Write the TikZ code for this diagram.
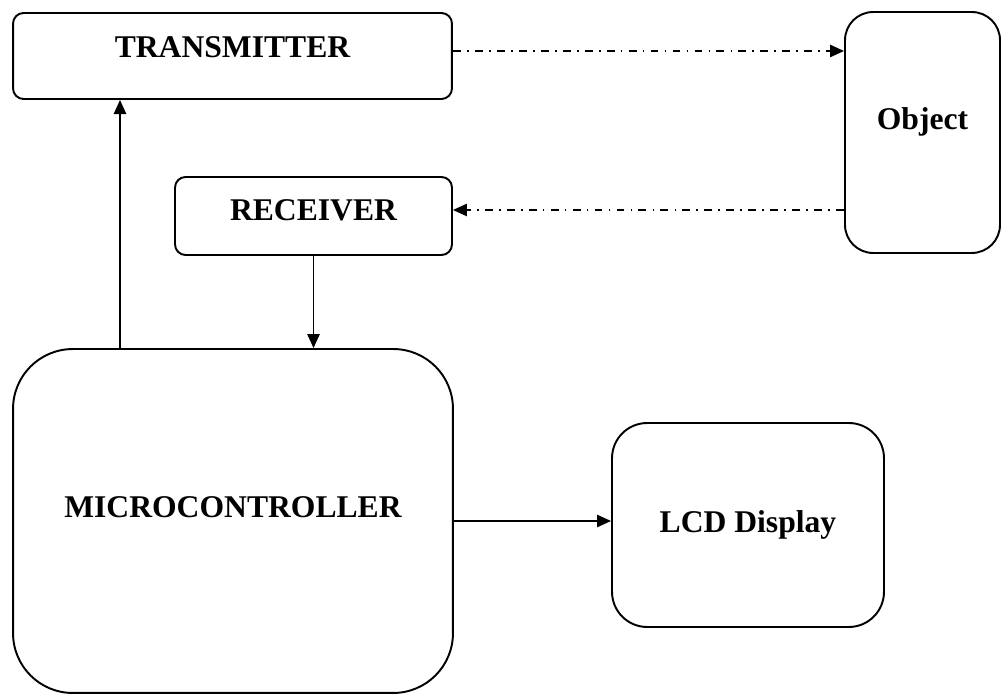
\documentclass[tikz,border=0pt]{standalone}
\usepackage{fontspec}
\setmainfont{Liberation Serif}
\usetikzlibrary{arrows.meta, positioning}

\begin{document}
\begin{tikzpicture}[
    x = 0.02cm, y = -0.02cm, % one unit = one pixel of the drawing
    >= {Triangle[length=8pt, width=7pt]},
    line width = 1.1pt,
    block/.style={rectangle, draw, rounded corners=#1, inner sep=0pt,
                  font=\bfseries\fontsize{18}{21}\selectfont},
    block/.default=6pt,
    lift/.style={text depth=#1}, % pushes the label up inside its box
    arr/.style={->},
    dashdot arr/.style={->, dash pattern=on 4.5pt off 3.5pt on 1pt off 3.5pt}
]

\useasboundingbox (0,0) rectangle (1001,695);

% --- the blocks ---
\node[block, lift=10pt, minimum width=8.78cm, minimum height=1.72cm] (tx) at (232.5,56) {TRANSMITTER};
\node[block, lift=6.5pt, minimum width=5.54cm, minimum height=1.56cm] (rx) at (313.5,216) {RECEIVER};
\node[block=16pt, lift=16pt, minimum width=3.1cm, minimum height=4.82cm] (obj) at (922.5,132.5) {Object};
\node[block=34pt, lift=16pt, minimum width=8.8cm, minimum height=6.88cm] (mc) at (233,521) {MICROCONTROLLER};
\node[block=20pt, minimum width=5.44cm, minimum height=4.08cm] (lcd) at (748,525) {LCD Display};

% tap on the microcontroller going up to the transmitter
\coordinate (tap) at (120,0);

% --- connections ---
\draw[dashdot arr] ([yshift=0.1cm]tx.east) -- ([yshift=0.1cm]tx.east -| obj.west);
\draw[dashdot arr] ([yshift=0.12cm]rx.east -| obj.west) -- ([yshift=0.12cm]rx.east);
\draw[arr] (rx.south) -- (rx.south |- mc.north);
\draw[arr] (mc.north -| tap) -- (tx.south -| tap);
\draw[arr] (mc.east) -- (mc.east -| lcd.west);

\end{tikzpicture}
\end{document}
